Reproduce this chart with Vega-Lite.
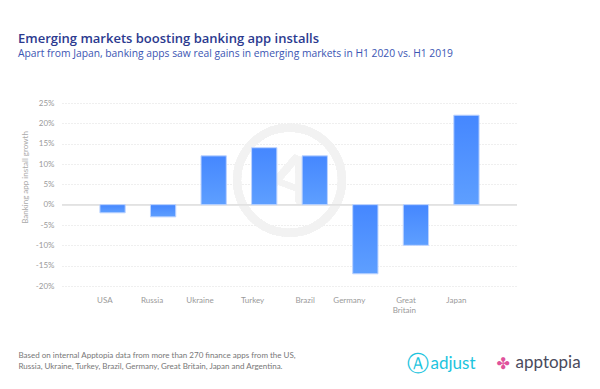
{
  "$schema": "https://vega.github.io/schema/vega-lite/v6.json",
  "width": 455,
  "height": 183,
  "autosize": {"type": "none"},
  "padding": {"left": 62, "top": 103, "right": 83, "bottom": 103},
  "background": "#ffffff",
  "config": {
    "view": {"stroke": null},
    "font": "Lato"
  },
  "title": {
    "text": "Emerging markets boosting banking app installs",
    "subtitle": "Apart from Japan, banking apps saw real gains in emerging markets in H1 2020 vs. H1 2019",
    "anchor": "start",
    "frame": "group",
    "dx": -44,
    "offset": 40,
    "font": "Open Sans",
    "fontSize": 13,
    "fontWeight": 600,
    "color": "#2b3a8f",
    "subtitleFont": "Open Sans",
    "subtitleFontSize": 10.3,
    "subtitleColor": "#3b55b3",
    "subtitlePadding": 3
  },
  "data": {
    "values": [
      {"country": "USA", "growth": -2},
      {"country": "Russia", "growth": -3},
      {"country": "Ukraine", "growth": 12},
      {"country": "Turkey", "growth": 14},
      {"country": "Brazil", "growth": 12},
      {"country": "Germany", "growth": -17},
      {"country": "Great Britain", "growth": -10},
      {"country": "Japan", "growth": 22}
    ]
  },
  "resolve": {"scale": {"y": "independent"}},
  "layer": [
    {
      "mark": {"type": "point", "shape": "circle", "filled": false, "size": 11000, "stroke": "#f2f2f2", "strokeWidth": 8, "opacity": 1},
      "encoding": {
        "x": {"datum": "Turkey", "type": "nominal", "bandPosition": 1.5},
        "y": {"datum": 6, "type": "quantitative", "scale": {"domain": [-20, 25]}, "axis": null}
      }
    },
    {
      "mark": {"type": "text", "text": "A", "font": "Lato", "fontSize": 62, "fontWeight": "bold", "color": "#f3f3f3", "angle": 20},
      "encoding": {
        "x": {"datum": "Turkey", "type": "nominal", "bandPosition": 1.5},
        "y": {"datum": 6, "type": "quantitative", "scale": {"domain": [-20, 25]}, "axis": null}
      }
    },
    {
      "mark": {"type": "rule", "color": "#e2e2e2", "strokeWidth": 1},
      "encoding": {
        "y": {"datum": 0, "type": "quantitative", "scale": {"domain": [-20, 25]},
          "axis": {"orient": "right", "labels": false, "ticks": false, "domain": false, "grid": false,
            "title": "Ⓐ", "titleAngle": 0, "titleAlign": "left", "titleBaseline": "middle",
            "titleX": -111, "titleY": 260, "titleFont": "DejaVu Sans", "titleFontSize": 22, "titleFontWeight": "normal", "titleColor": "#1cc4de"}}
      }
    },
    {
      "mark": {"type": "rule", "color": "#e2e2e2", "strokeWidth": 1},
      "encoding": {
        "y": {"datum": 0, "type": "quantitative", "scale": {"domain": [-20, 25]},
          "axis": {"orient": "right", "labels": false, "ticks": false, "domain": false, "grid": false,
            "title": "adjust", "titleAngle": 0, "titleAlign": "left", "titleBaseline": "middle",
            "titleX": -87, "titleY": 260, "titleFont": "Lato", "titleFontSize": 17, "titleFontWeight": "normal", "titleColor": "#1cc4de"}}
      }
    },
    {
      "mark": {"type": "rule", "color": "#e2e2e2", "strokeWidth": 1},
      "encoding": {
        "y": {"datum": 0, "type": "quantitative", "scale": {"domain": [-20, 25]},
          "axis": {"orient": "right", "labels": false, "ticks": false, "domain": false, "grid": false,
            "title": "apptopia", "titleAngle": 0, "titleAlign": "left", "titleBaseline": "middle",
            "titleX": -2, "titleY": 259, "titleFont": "Lato", "titleFontSize": 17, "titleFontWeight": "normal", "titleColor": "#4a4a5c"}}
      }
    },
    {
      "mark": {"type": "rule", "color": "#e2e2e2", "strokeWidth": 1},
      "encoding": {
        "y": {"datum": 0, "type": "quantitative", "scale": {"domain": [-20, 25]},
          "axis": {"orient": "right", "labels": false, "ticks": false, "domain": false, "grid": false,
            "title": "✤", "titleAngle": 0, "titleAlign": "left", "titleBaseline": "middle",
            "titleX": -21, "titleY": 260, "titleFont": "DejaVu Sans", "titleFontSize": 16, "titleFontWeight": "normal", "titleColor": "#e0529c"}}
      }
    },
    {
      "mark": {
        "type": "bar",
        "fill": {"gradient": "linear", "x1": 0, "y1": 0, "x2": 0, "y2": 1,
          "stops": [{"offset": 0, "color": "#4587ff"}, {"offset": 1, "color": "#5e9fff"}]},
        "stroke": "#bcd3ff",
        "strokeWidth": 1
      },
      "encoding": {
        "x": {
          "field": "country", "type": "nominal", "sort": null,
          "scale": {"domain": ["USA", "Russia", "Ukraine", "Turkey", "Brazil", "Germany", "Great Britain", "Japan"], "paddingInner": 0.5, "paddingOuter": 0.75},
          "axis": {
            "labelExpr": "datum.label == 'Great Britain' ? ['Great', 'Britain'] : datum.label",
            "labelAngle": 0, "labelFont": "Lato", "labelFontSize": 8, "labelColor": "#9a9a9a", "labelPadding": 10,
            "labelLineHeight": 10, "labelBaseline": "top",
            "ticks": false, "domain": false, "grid": false,
            "title": ["Based on internal Apptopia data from more than 270 finance apps from the US,", "Russia, Ukraine, Turkey, Brazil, Germany, Great Britain, Japan and Argentina."],
            "titleAnchor": "start", "titleAlign": "left", "titleBaseline": "top",
            "titleX": -44, "titleY": 65, "titleFont": "Lato", "titleFontSize": 8, "titleFontWeight": "normal",
            "titleColor": "#777777", "titleLineHeight": 11
          }
        },
        "y": {
          "field": "growth", "type": "quantitative",
          "scale": {"domain": [-20, 25], "nice": false},
          "axis": {
            "values": [-20, -15, -10, -5, 0, 5, 10, 15, 20, 25],
            "labelExpr": "datum.value + '%'",
            "labelFont": "Lato", "labelFontSize": 8, "labelColor": "#9a9a9a", "labelPadding": 8,
            "ticks": false, "domain": false,
            "grid": true, "gridColor": "#dedede", "gridDash": [1, 2], "gridWidth": 1,
            "title": "Banking app install growth", "titleFont": "Lato", "titleFontSize": 8, "titleFontWeight": "normal",
            "titleColor": "#aaaaaa", "titleX": -37, "titleY": 74, "titleAnchor": "middle", "titleAlign": "center", "titleBaseline": "middle"
          }
        }
      }
    }
  ]
}
